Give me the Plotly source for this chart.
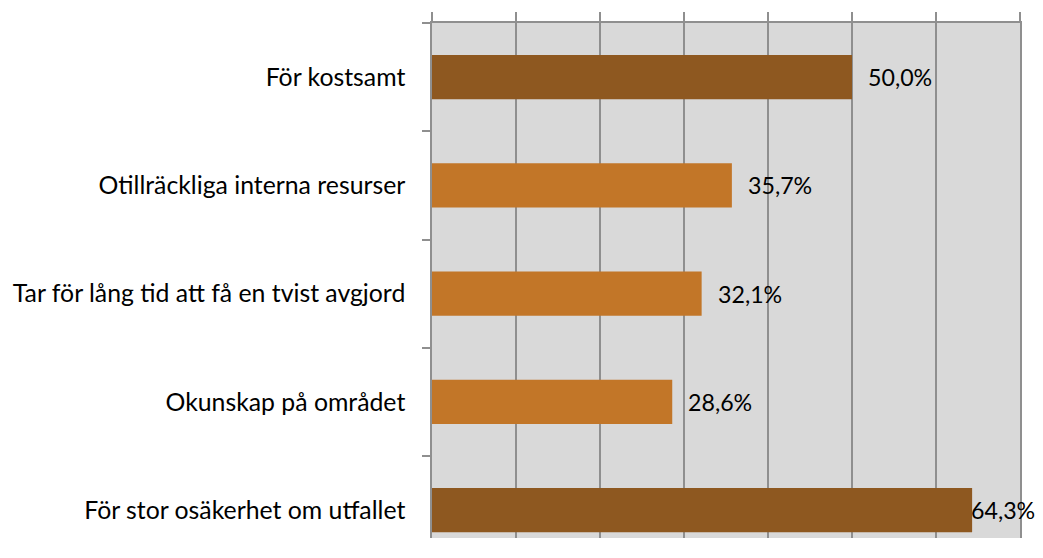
import plotly.graph_objects as go

# categories top -> bottom
categories = ['För kostsamt',
              'Otillräckliga interna resurser',
              'Tar för lång tid att få en tvist avgjord',
              'Okunskap på området',
              'För stor osäkerhet om utfallet']
values = [50.0, 35.7, 32.1, 28.6, 64.3]

DARK = '#8E5820'
LIGHT = '#C27628'
bar_colors = [DARK, LIGHT, LIGHT, LIGHT, DARK]

labels = [f"{v:.1f}".replace('.', ',') + '%' for v in values]

FONT = 'Lato'

fig = go.Figure(go.Bar(
    x=values, y=categories, orientation='h',
    marker=dict(color=bar_colors, line=dict(width=0)),
    hoverinfo='skip',
))

# value labels next to bar ends (the last one sits tight to the bar, as in Excel)
for cat, v, lab in zip(categories, values, labels):
    fig.add_annotation(x=v, y=cat, text=lab, showarrow=False,
                       xanchor='left', yanchor='middle',
                       xshift=-3 if v > 60 else 14,
                       font=dict(family=FONT, size=23.2, color='#000000'))

# page body has an 8px margin, so the figure starts at (8, 8);
# the original chart is cut off at the bottom, so the y range is trimmed
fig.update_layout(
    width=1035, height=530,
    margin=dict(l=424, r=23, t=15, b=0),
    paper_bgcolor='white', plot_bgcolor='#D9D9D9',
    bargap=0.59, showlegend=False,
    font=dict(family=FONT, size=24.8, color='#000000'),
)
fig.update_xaxes(range=[0, 70], dtick=10, side='top', showticklabels=False,
                 showgrid=True, gridcolor='#8F8F8F', gridwidth=1.5,
                 showline=True, linecolor='#8F8F8F', linewidth=1.5,
                 ticks='outside', ticklen=9, tickcolor='#8F8F8F', tickwidth=1.5,
                 zeroline=False, fixedrange=True)
fig.update_yaxes(categoryorder='array', categoryarray=categories[::-1],
                 range=[-0.257, 4.5],
                 showline=True, mirror=True, linecolor='#8F8F8F', linewidth=1.5,
                 ticks='outside', tickson='boundaries', ticklen=8,
                 tickcolor='#8F8F8F', tickwidth=1.5,
                 ticklabelstandoff=20, showgrid=False, fixedrange=True)

fig.write_html("out.html")
